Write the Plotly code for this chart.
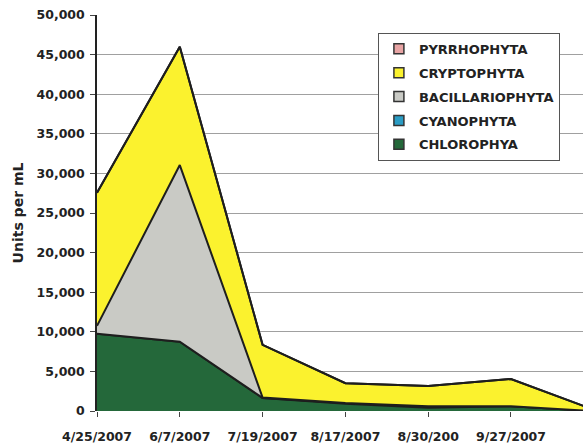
import plotly.graph_objects as go

# Sampling dates (the seventh sample falls past the right edge of the plot)
date_labels = ["4/25/2007", "6/7/2007", "7/19/2007", "8/17/2007", "8/30/200", "9/27/2007"]

# Phytoplankton densities, units per mL, per sample
chlorophya = [9750, 8750, 1650, 900, 400, 600, 0]
cyanophyta = [0, 0, 0, 100, 200, 0, 0]
bacillariophyta = [1000, 22300, 50, 0, 0, 0, 0]
cryptophyta = [16800, 14950, 6650, 2500, 2550, 3440, 150]
pyrrhophyta = [0, 0, 0, 0, 0, 0, 0]

y_ticks = list(range(0, 50001, 5000))

FONT = "DejaVu Sans"
EDGE = "#1e1e1e"

series = [
    ("CHLOROPHYA", chlorophya, "#24683a"),
    ("CYANOPHYTA", cyanophyta, "#2a9cc4"),
    ("BACILLARIOPHYTA", bacillariophyta, "#c9cac5"),
    ("CRYPTOPHYTA", cryptophyta, "#fbf22e"),
    ("PYRRHOPHYTA", pyrrhophyta, "#e8a4a4"),
]

x_pos = list(range(len(chlorophya)))

fig = go.Figure()

# Stacked areas, bottom to top
for name, vals, col in series:
    fig.add_trace(go.Scatter(
        x=x_pos, y=vals, name=name, stackgroup="algae",
        mode="lines", line=dict(color=EDGE, width=2),
        fillcolor=col, showlegend=False, hoverinfo="skip",
    ))

# Legend entries with square swatches, top to bottom
for i, (name, vals, col) in enumerate(reversed(series)):
    fig.add_trace(go.Scatter(
        x=[None], y=[None], name=name, mode="markers",
        marker=dict(symbol="square", size=10, color=col,
                    line=dict(color="#333333", width=1.5)),
        legendgroup=f"g{i}", showlegend=True,
    ))

fig.update_layout(
    width=583, height=446,
    margin=dict(l=97, r=0, t=15, b=35),
    paper_bgcolor="white", plot_bgcolor="white",
    font=dict(family=FONT, size=12, color="#222222", weight="bold"),
    legend=dict(
        x=0.578, y=0.955, xanchor="left", yanchor="top",
        bgcolor="white", bordercolor="#555555", borderwidth=1,
        font=dict(family=FONT, size=13, color="#222222", weight="bold"),
        tracegroupgap=4, itemwidth=30, traceorder="grouped",
    ),
    showlegend=True,
)

fig.update_xaxes(
    range=[0, 5.87],
    tickmode="array", tickvals=list(range(len(date_labels))), ticktext=date_labels,
    ticks="outside", ticklen=5, tickcolor="#444444", tickwidth=1,
    ticklabelstandoff=9,
    showgrid=False, zeroline=False, showline=False,
    tickfont=dict(family=FONT, size=12.5, color="#222222", weight="bold"),
)

fig.update_yaxes(
    range=[0, 50000],
    tickmode="array", tickvals=y_ticks, tickformat=",d",
    ticks="outside", ticklen=5, tickcolor="#444444", tickwidth=1,
    ticklabelstandoff=3,
    showgrid=True, gridcolor="#a0a0a0", gridwidth=1,
    zeroline=False, showline=True, linecolor="#222222", linewidth=1.5,
    tickfont=dict(family=FONT, size=12.5, color="#222222", weight="bold"),
    title=dict(text="Units per mL", standoff=10,
               font=dict(family=FONT, size=14, color="#222222", weight="bold")),
)

fig.write_html("out.html")
